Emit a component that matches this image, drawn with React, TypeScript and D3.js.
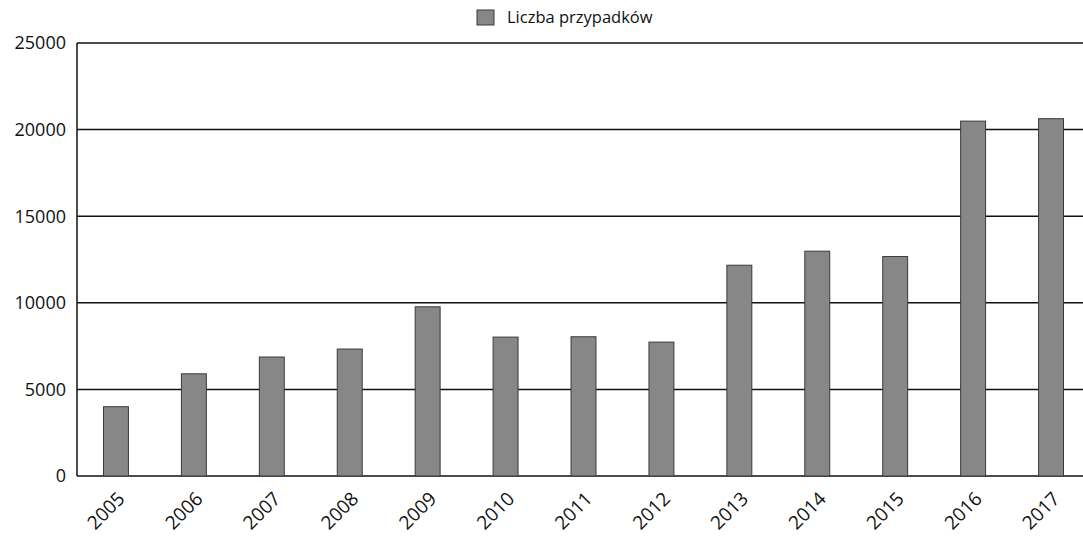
import { useEffect, useRef } from "react"
import * as d3 from "d3"

const years = ["2005", "2006", "2007", "2008", "2009", "2010", "2011", "2012", "2013", "2014", "2015", "2016", "2017"]
const cases = [4000, 5900, 6870, 7330, 9770, 8020, 8040, 7730, 12170, 12980, 12670, 20490, 20630]
const yTicks = [0, 5000, 10000, 15000, 20000, 25000]
const legendLabel = "Liczba przypadków"

const W = 1083, H = 536
const FONT = "'Open Sans', 'Noto Sans', sans-serif"

export default function App() {
  const ref = useRef<SVGSVGElement>(null)

  useEffect(() => {
    const svg = d3.select(ref.current!)
    svg.selectAll("*").remove()

    const left = 77, right = 1090, top = 43, bottom = 476
    const x = d3.scaleBand<string>().domain(years).range([left, right]).paddingInner(0.68).paddingOuter(0.34)
    const y = d3.scaleLinear().domain([0, 25000]).range([bottom, top])

    // grid lines
    svg.append("g").selectAll("line").data(yTicks).join("line")
      .attr("x1", left).attr("x2", W)
      .attr("y1", d => y(d)).attr("y2", d => y(d))
      .attr("stroke", "#111").attr("stroke-width", 1.5)

    // left axis line
    svg.append("line").attr("x1", left).attr("x2", left).attr("y1", top).attr("y2", bottom)
      .attr("stroke", "#111").attr("stroke-width", 1.5)

    // y labels
    svg.append("g").selectAll("text").data(yTicks).join("text")
      .attr("x", 66).attr("y", d => y(d)).attr("dy", "0.35em")
      .attr("text-anchor", "end").attr("font-family", FONT).attr("font-size", 18).attr("fill", "#111")
      .text(d => String(d))

    // bars
    svg.append("g").selectAll("rect").data(years).join("rect")
      .attr("x", d => x(d)!).attr("width", x.bandwidth())
      .attr("y", (_, i) => y(cases[i])).attr("height", (_, i) => y(0) - y(cases[i]))
      .attr("fill", "#878787").attr("stroke", "#3a3a3a").attr("stroke-width", 1)

    // x labels
    svg.append("g").selectAll("text").data(years).join("text")
      .attr("transform", d => `translate(${x(d)! + x.bandwidth() / 2 + 10},${bottom + 24}) rotate(-45)`)
      .attr("text-anchor", "end").attr("font-family", FONT).attr("font-size", 19).attr("fill", "#111")
      .text(d => d)

    // legend
    const lg = svg.append("g").attr("transform", "translate(477,10)")
    lg.append("rect").attr("width", 17).attr("height", 15)
      .attr("fill", "#878787").attr("stroke", "#3a3a3a").attr("stroke-width", 1)
    lg.append("text").attr("x", 30).attr("y", 13)
      .attr("font-family", FONT).attr("font-size", 16.5).attr("fill", "#111")
      .text(legendLabel)
  }, [])

  return (
    <svg ref={ref} width={W} height={H}
      style={{ position: "absolute", left: 0, top: 0, background: "#fff" }} />
  )
}
